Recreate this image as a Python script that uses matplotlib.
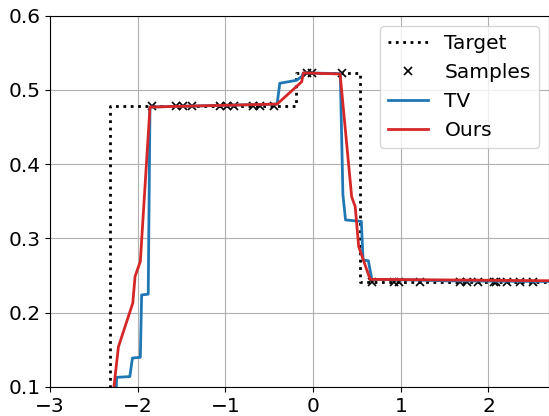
import matplotlib.pyplot as plt

# target step function
target_x = [-2.32, -2.32, -0.19, -0.19, 0.535, 0.535, 2.8]
target_y = [0.0, 0.479, 0.479, 0.523, 0.523, 0.242, 0.242]

# samples
samples_x = [-1.84, -1.56, -1.48, -1.38, -1.06, -0.98, -0.90, -0.68, -0.60, -0.45,
             -0.07, -0.015, 0.33,
             0.67, 0.92, 0.98, 1.22, 1.68, 1.75, 1.88, 2.06, 2.09, 2.21, 2.36, 2.51]
samples_y = [0.479] * 10 + [0.523] * 3 + [0.242] * 12

# TV reconstruction
tv_x = [-2.25, -2.24, -2.09, -2.06, -1.97, -1.955, -1.88, -1.86, -0.41, -0.38, -0.19,
        -0.13, -0.11, 0.31, 0.34, 0.37, 0.55, 0.57, 0.63, 0.67, 1.2, 1.5, 2.8]
tv_y = [0.08, 0.113, 0.114, 0.139, 0.14, 0.224, 0.225, 0.477, 0.481, 0.509, 0.513,
        0.518, 0.523, 0.522, 0.359, 0.325, 0.323, 0.271, 0.27, 0.245, 0.244, 0.243, 0.242]

# our reconstruction
ours_x = [-2.29, -2.22, -2.056, -2.03, -1.97, -1.86, -0.41, -0.13, -0.11, 0.308,
          0.44, 0.48, 0.52, 0.65, 2.8]
ours_y = [0.08, 0.154, 0.213, 0.249, 0.269, 0.477, 0.481, 0.511, 0.523, 0.5215,
          0.356, 0.343, 0.289, 0.245, 0.243]

plt.rcParams['font.size'] = 14.5

fig = plt.figure(figsize=(5.49, 4.16), dpi=100)
ax = fig.add_axes([50 / 549, 29 / 416, 499 / 549, 371.3 / 416])

ax.plot(target_x, target_y, ':', color='black', lw=2, label='Target')
ax.plot(samples_x, samples_y, 'x', color='black', ms=6, mew=1.2, label='Samples')
ax.plot(tv_x, tv_y, '-', color='#1f77b4', lw=2, label='TV')
ax.plot(ours_x, ours_y, '-', color='#d62728', lw=2, label='Ours')

ax.set_xlim(-3, 2.69)
ax.set_ylim(0.1, 0.6)
ax.set_xticks([-3, -2, -1, 0, 1, 2])
ax.set_yticks([0.1, 0.2, 0.3, 0.4, 0.5, 0.6])
ax.grid(True)
ax.legend(loc='upper right', fontsize=14.5)

fig.savefig('out.png', dpi=100)
